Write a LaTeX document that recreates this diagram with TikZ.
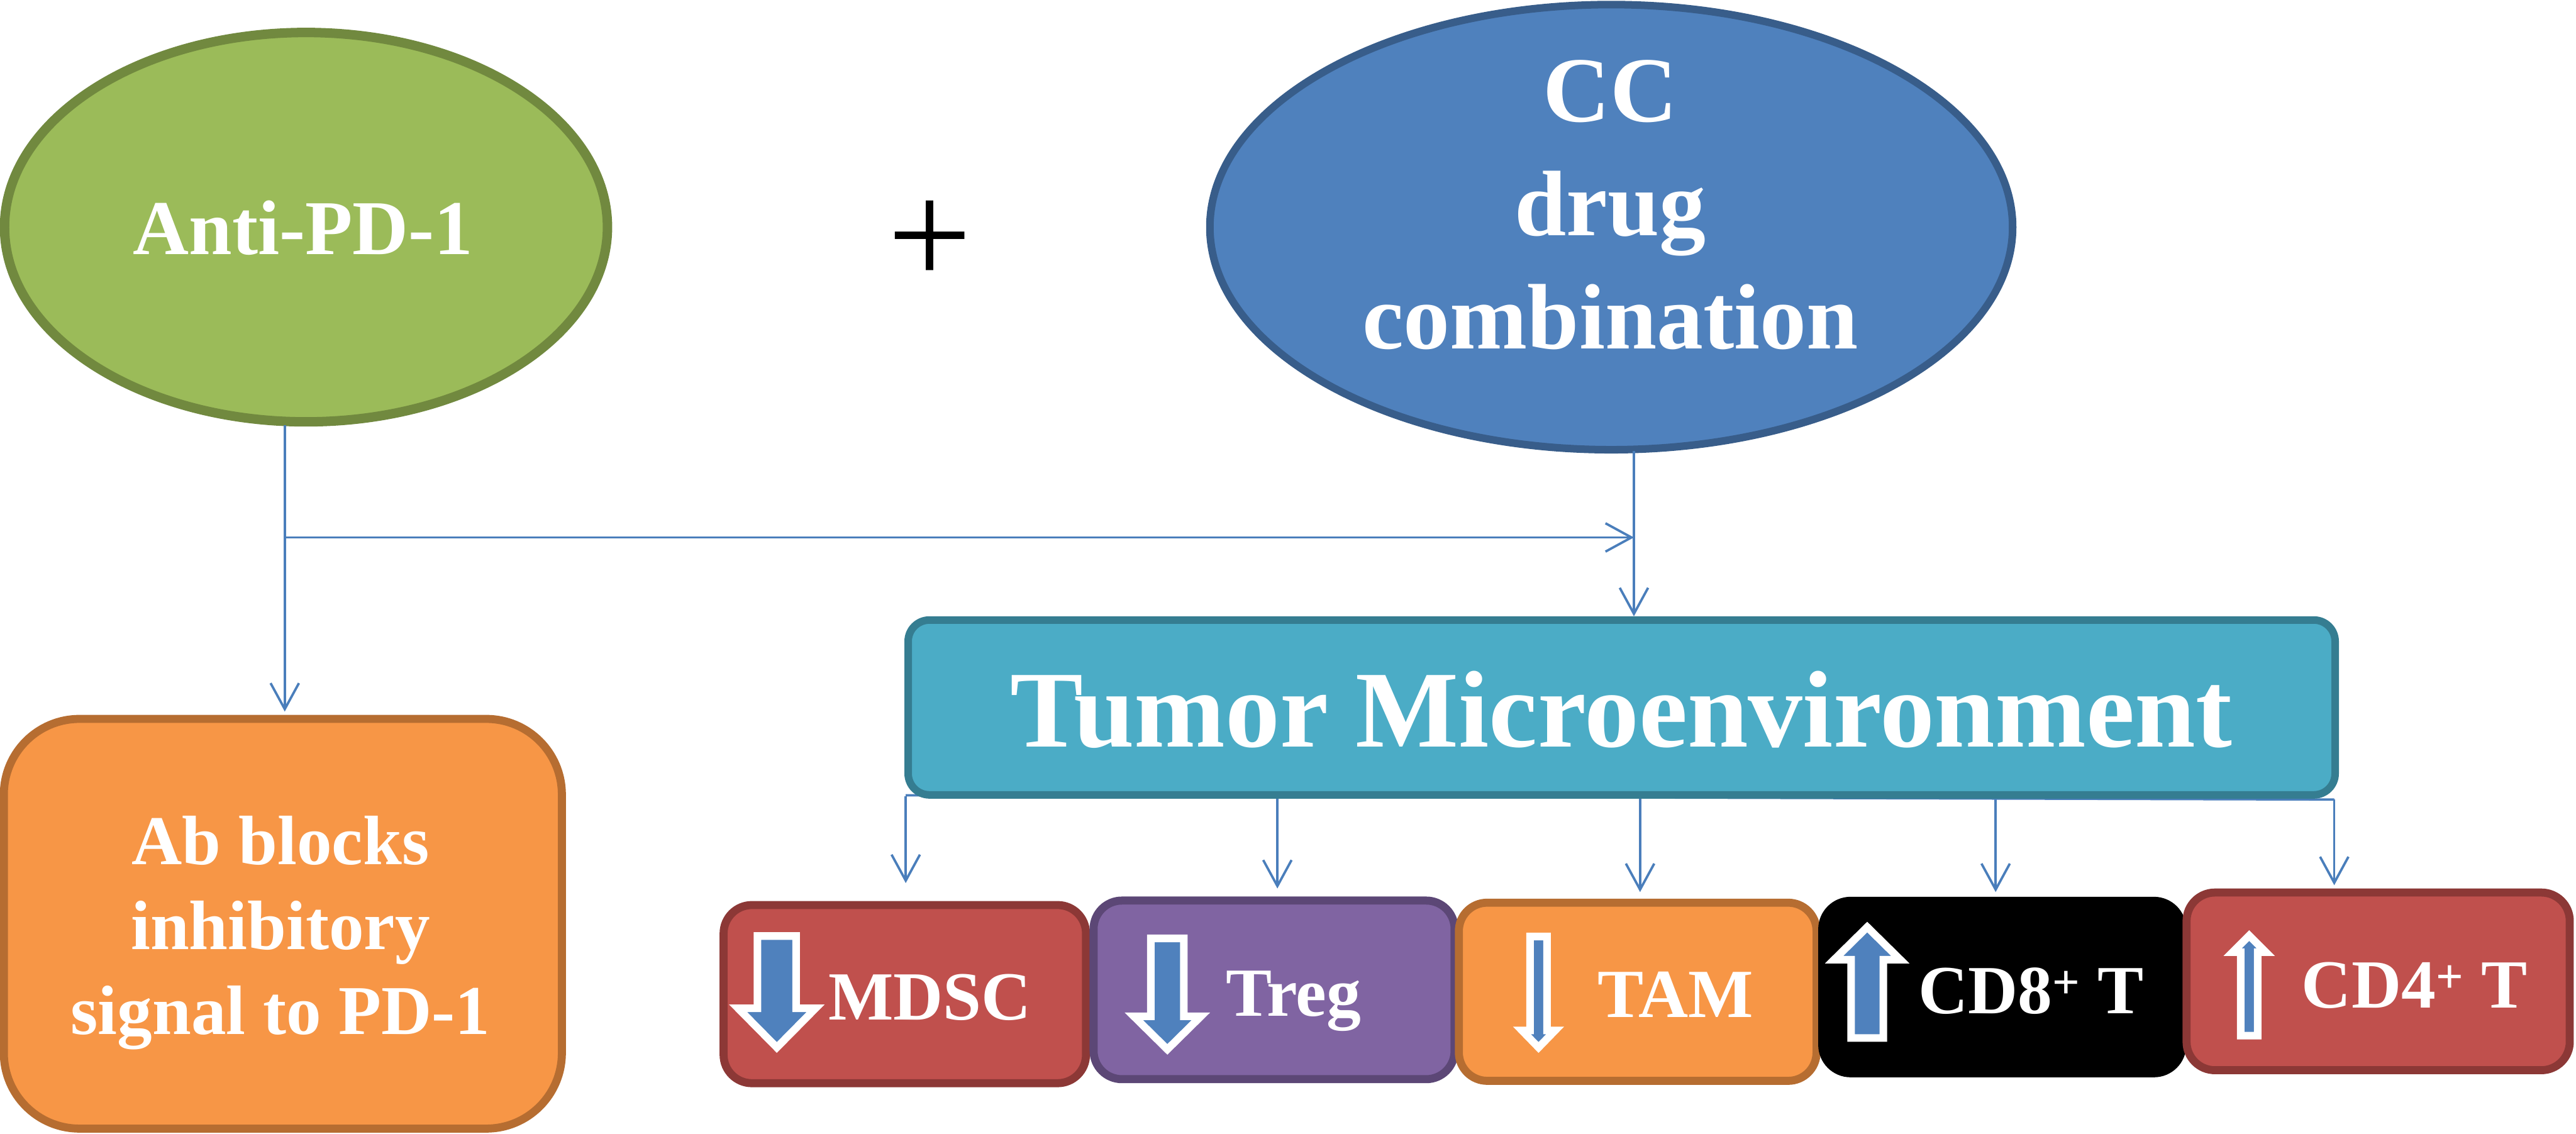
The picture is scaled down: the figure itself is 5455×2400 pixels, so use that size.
\documentclass[tikz,border=0pt]{standalone}
\usepackage{fontspec}
\setmainfont{Liberation Serif}
\usetikzlibrary{shapes.geometric,arrows.meta}
\definecolor{gfill}{HTML}{9BBB59}
\definecolor{gline}{HTML}{71893F}
\definecolor{bfill}{HTML}{4F81BD}
\definecolor{bline}{HTML}{385D8A}
\definecolor{ofill}{HTML}{F79646}
\definecolor{oline}{HTML}{B66D31}
\definecolor{afill}{HTML}{4BACC6}
\definecolor{aline}{HTML}{357D91}
\definecolor{rfill}{HTML}{C0504D}
\definecolor{rline}{HTML}{8C3836}
\definecolor{pfill}{HTML}{8064A2}
\definecolor{pline}{HTML}{5C4776}
\definecolor{connc}{HTML}{4A7EBB}
\newcommand{\fsz}[2]{\fontsize{#1}{#2}\selectfont}
% down block arrow: cx, top, headbase, tip, half shaft, half head
\newcommand{\blkdown}[6]{%
  \path[blockarr] ({#1-#5},#2) -- ({#1+#5},#2) -- ({#1+#5},#3) -- ({#1+#6},#3)
    -- (#1,#4) -- ({#1-#6},#3) -- ({#1-#5},#3) -- cycle;}
\begin{document}
\begin{tikzpicture}[x=0.01cm,y=-0.01cm,
  ell/.style={ellipse,inner sep=0pt},
  rbox/.style={rectangle,inner sep=0pt},
  small/.style={rbox,rounded corners=0.6cm,line width=0.17cm,minimum width=#1},
  conn/.style={draw=connc,line width=0.05cm,-{Straight Barb[length=0.55cm,width=0.6cm]}},
  bus/.style={draw=connc,line width=0.05cm},
  lbl/.style={text=white,inner sep=0pt,anchor=base},
  cell/.style={lbl,font=\bfseries\fsz{41.5pt}{50pt}},
  blockarr/.style={fill=bfill,draw=white,line width=0.16cm}
]
\useasboundingbox (0,0) rectangle (5455,2400);

% top ellipses
\node[ell,fill=gfill,draw=gline,line width=0.2cm,minimum width=12.76cm,minimum height=8.24cm] (green) at (648,481) {};
\node[ell,fill=bfill,draw=bline,line width=0.16cm,minimum width=16.99cm,minimum height=9.42cm] (cc) at (3412,481) {};
\node[lbl,font=\bfseries\fsz{46.7pt}{56pt}] (tanti) at (642,539) {Anti-PD-1};
\node[lbl,font=\bfseries\fsz{56pt}{68.3pt}] (tcc) at (3410,258)
  {\begin{tabular}[t]{@{}c@{}}CC\\drug\\combination\end{tabular}};
\node[inner sep=0pt,font=\fsz{90pt}{90pt}] (plus) at (1969,515) {+};

% left box
\node[rbox,fill=ofill,draw=oline,line width=0.17cm,rounded corners=1.6cm,minimum width=11.81cm,minimum height=8.67cm] (ab) at (599,1956) {};
\node[lbl,font=\bfseries\fsz{42.1pt}{51.2pt}] (tab) at (594,1830)
  {\begin{tabular}[t]{@{}c@{}}Ab blocks\\inhibitory\\signal to PD-1\end{tabular}};

% connectors from top
\coordinate (gdrop) at (603,900);
\coordinate (j) at (603,1138);
\coordinate (cdrop) at (3460,955);
\draw[conn,shorten >=0.07cm] (gdrop) -- (gdrop |- ab.north);
\draw[conn] (j) -- (j -| cdrop);

% bus below TME
\coordinate (busL) at (1918,1684);
\coordinate (busR) at (4943,1693);
\coordinate (d1) at (1918,1686);
\coordinate (d2) at (2705,1688);
\coordinate (d3) at (3473,1690);
\coordinate (d4) at (4226,1691);
\coordinate (d5) at (4943,1693);
\draw[bus] (busL) -- (busR);

% bottom boxes
\node[small=7.67cm,minimum height=3.77cm,fill=rfill,draw=rline] (mdsc) at (1916,2105) {};
\node[small=7.64cm,minimum height=3.78cm,fill=pfill,draw=pline] (treg) at (2698,2096) {};
\node[small=7.57cm,minimum height=3.77cm,fill=ofill,draw=oline] (tam) at (3468,2100) {};
\node[small=7.62cm,minimum height=3.65cm,fill=black,draw=black] (cd8) at (4240,2090) {};
\node[small=8.11cm,minimum height=3.76cm,fill=rfill,draw=rline] (cd4) at (5036,2078) {};

\draw[conn,shorten >=0.38cm] (d1) -- (d1 |- mdsc.north);
\draw[conn,shorten >=0.17cm] (d2) -- (d2 |- treg.north);
\draw[conn,shorten >=0.14cm] (d3) -- (d3 |- tam.north);
\draw[conn,shorten >=0.10cm] (d4) -- (d4 |- cd8.north);
\draw[conn,shorten >=0.07cm] (d5) -- (d5 |- cd4.north);

% TME box
\node[rbox,fill=afill,draw=aline,line width=0.16cm,rounded corners=0.45cm,minimum width=30.2cm,minimum height=3.7cm] (tme) at (3434,1498) {};
\node[lbl,font=\bfseries\fsz{65.8pt}{78pt}] (ttme) at (3433,1581) {Tumor Microenvironment};
\draw[conn] (cdrop) -- (cdrop |- tme.north);

% block arrows
\blkdown{1645}{1982}{2135}{2218}{41}{82}
\blkdown{2472}{1987}{2152}{2222}{35}{71}
\blkdown{3258}{1983}{2182}{2218}{18}{35}
\blkdown{3954}{2198}{2032}{1963}{34}{70}
\blkdown{4763}{2193}{2016}{1981}{18}{35}

% labels
\node[cell] (tmdsc) at (1969,2159) {MDSC};
\node[cell] (ttreg) at (2739,2151) {Treg};
\node[cell] (ttam) at (3548,2154) {TAM};
\node[cell] (tcd8) at (4301,2146) {CD8\textsuperscript{+} T};
\node[cell] (tcd4) at (5113,2134) {CD4\textsuperscript{+} T};
\end{tikzpicture}
\end{document}
